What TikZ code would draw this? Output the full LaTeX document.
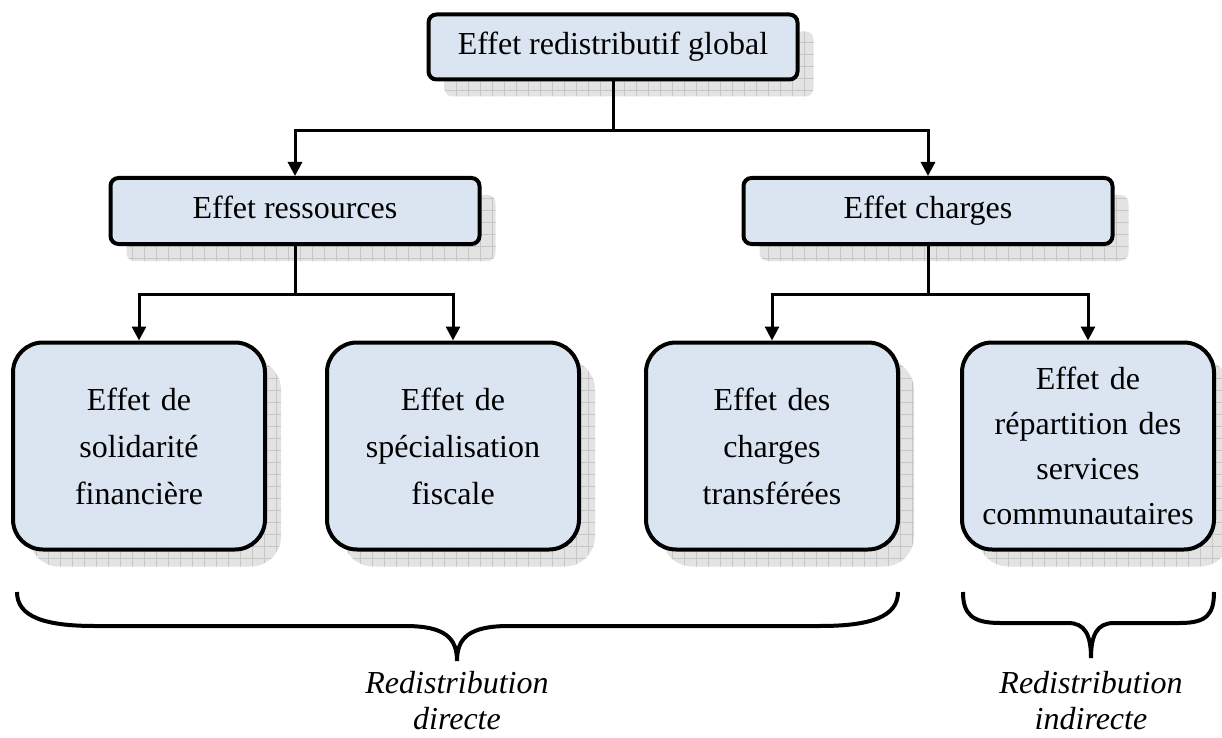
\documentclass[tikz,border=0pt]{standalone}
\usepackage{fontspec}
\setmainfont{Liberation Serif}
\usetikzlibrary{positioning}
\usetikzlibrary{arrows.meta}
\usetikzlibrary{shadows}
\usetikzlibrary{patterns.meta}
\definecolor{boxblue}{RGB}{219,229,241}

\begin{document}
\begin{tikzpicture}[x=0.5pt, y=-0.5pt, >={Triangle[width=7pt,length=7pt]}, font=\fontsize{16}{23.5}\selectfont]
    \tikzstyle{boxshadow}=[drop shadow={shadow xshift=8pt, shadow yshift=-8.5pt, fill=gray!22, opacity=1, postaction={pattern={Hatch[distance=6pt, line width=0.3pt]}, pattern color=gray!45}}]
    \tikzstyle{effet}=[draw=black, line width=2pt, fill=boxblue, rounded corners=4pt, boxshadow, inner sep=0pt]
    \tikzstyle{topbox}=[effet, minimum width=184.5pt, minimum height=32.5pt, text height=11pt, text depth=3.5pt]
    \tikzstyle{midbox}=[effet, minimum width=184.5pt, minimum height=33pt, text height=11pt, text depth=3.5pt]
    \tikzstyle{leafbox}=[effet, rounded corners=15pt, minimum width=126pt, minimum height=103.5pt, text width=124pt, align=center]
    \tikzstyle{link}=[line width=1.5pt, ->]
    \tikzstyle{bracket}=[line width=2pt]
    \tikzstyle{redis}=[font=\fontsize{16}{18}\selectfont\itshape, align=center, inner sep=0pt]

    \useasboundingbox (0,0) rectangle (1222,738);

    \node[topbox] (global) at (613,47) {Effet redistributif global};
    \node[midbox] (ress) at (295,211) {Effet ressources};
    \node[midbox] (charg) at (928,211) {Effet charges};

    \node[leafbox] (solid) at (139,446) {Effet de\\solidarité\\financière};
    \node[leafbox] (fisc) at (453,446) {Effet de\\spécialisation\\fiscale};
    \node[leafbox] (trans) at (772,446) {Effet des\\charges\\transférées};
    \node[leafbox, font=\fontsize{16}{22.5}\selectfont] (serv) at (1088,446) {Effet de\\répartition des\\services\\communautaires};

    % arbre
    \draw[link] (global.south) -- ++(0,49) -| (ress.north);
    \draw[link] (global.south) -- ++(0,49) -| (charg.north);
    \draw[link] (ress.south) -- ++(0,48) -| (solid.north);
    \draw[link] (ress.south) -- ++(0,48) -| (fisc.north);
    \draw[link] (charg.south) -- ++(0,48) -| (trans.north);
    \draw[link] (charg.south) -- ++(0,48) -| (serv.north);

    % accolades
    \draw[bracket] (17,592) .. controls (17,617) and (45,626) .. (95,626) -- (405,626)
        .. controls (445,626) and (457,638) .. (457,661)
        .. controls (457,638) and (469,626) .. (509,626) -- (820,626)
        .. controls (870,626) and (898,617) .. (898,592);
    \draw[bracket] (963,592) .. controls (963,614) and (972,623) .. (1000,623) -- (1068,623)
        .. controls (1085,623) and (1091,635) .. (1091,658)
        .. controls (1091,635) and (1097,623) .. (1114,623) -- (1180,623)
        .. controls (1207,623) and (1214,614) .. (1214,592);

    \node[redis] (direct) at (457,701) {Redistribution\\directe};
    \node[redis] (indirect) at (1091,701) {Redistribution\\indirecte};
\end{tikzpicture}
\end{document}
